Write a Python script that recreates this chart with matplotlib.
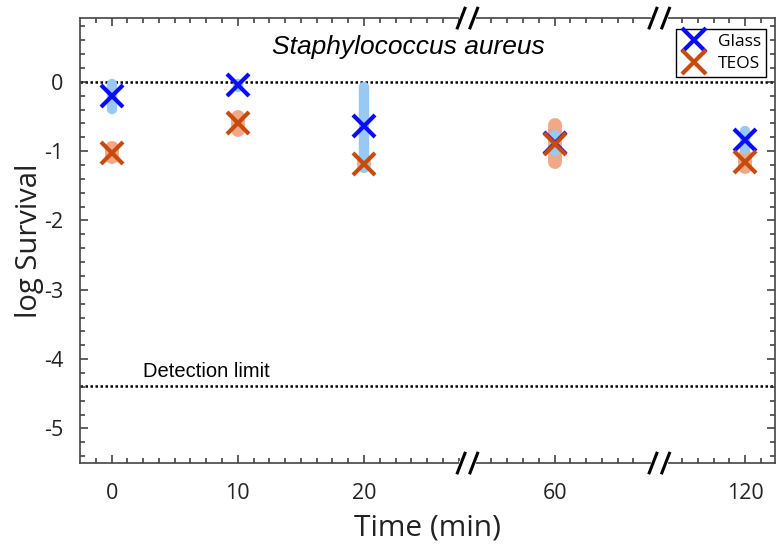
import numpy as np
import matplotlib
matplotlib.use("Agg")
import matplotlib.pyplot as plt

# data
times = [0, 10, 20, 60, 120]
glass_mean = [-0.21, -0.05, -0.64, -0.88, -0.84]
glass_err_lo = [0.18, 0.02, 0.60, 0.12, 0.13]
glass_err_hi = [0.18, 0.02, 0.57, 0.12, 0.13]
teos_mean = [-1.02, -0.60, -1.18, -0.89, -1.15]
teos_err = [0.07, 0.10, 0.02, 0.27, 0.08]
detection_limit = -4.39

# broken x axis: place each time on a compressed position scale
time_pos = {0: 0, 10: 10, 20: 20, 60: 35.1, 120: 50.2}
breaks = [28.2, 43.4]
x = [time_pos[t] for t in times]

blue = "#0a0aff"
light_blue = "#98c8f4"
rust = "#c64b0c"
salmon = "#f2a887"

fig = plt.figure(figsize=(7.77, 5.48), dpi=100)
ax = fig.add_axes([0.103, 0.155, 0.895, 0.812])

# error bars (thick, rounded)
eb_t = ax.errorbar(x, teos_mean, yerr=teos_err, fmt="none", ecolor=salmon,
                   elinewidth=10, capsize=0, zorder=2)
eb_g = ax.errorbar(x, glass_mean, yerr=[glass_err_lo, glass_err_hi], fmt="none",
                   ecolor=light_blue, elinewidth=7.5, capsize=0, zorder=3)
for eb in (eb_t, eb_g):
    for lc in eb[2]:
        lc.set_capstyle("round")

ax.plot(x, glass_mean, "x", color=blue, ms=16, mew=3, zorder=4, label="Glass")
ax.plot(x, teos_mean, "x", color=rust, ms=16, mew=3, zorder=5, label="TEOS")

# reference lines
ax.axhline(0, color="black", ls=(0, (1, 1.0)), lw=1.8, zorder=1)
ax.axhline(detection_limit, color="black", ls=(0, (1, 1.0)), lw=1.8, zorder=1)
ax.text(2.5, detection_limit + 0.08, "Detection limit", fontsize=14.5,
        family="Liberation Sans", ha="left", va="bottom")

ax.text(0.472, 0.935, "Staphylococcus aureus", transform=ax.transAxes,
        fontsize=19, style="italic", family="Liberation Sans",
        ha="center", va="center")

ax.set_xlim(-2.5, 52.6)
ax.set_ylim(-5.5, 0.92)

ax.set_xticks(x)
ax.set_xticklabels([str(t) for t in times])
minor_x = list(np.arange(-1.25, 28.0, 1.25))
minor_x += list(time_pos[60] + 1.25 * np.arange(-4, 6))
minor_x += list(time_pos[120] + 1.25 * np.arange(-4, 2))
minor_x = [m for m in minor_x if all(abs(m - p) > 0.1 for p in x)]
ax.set_xticks(minor_x, minor=True)

ax.set_yticks(range(-5, 1))
ax.set_yticklabels([str(v) for v in range(-5, 1)])
ax.set_yticks(np.arange(-5.4, 0.9, 0.2), minor=True)

for lbl in ax.get_xticklabels() + ax.get_yticklabels():
    lbl.set_family("Open Sans")
    lbl.set_fontsize(15.5)
    lbl.set_color("#222222")

ax.tick_params(which="both", direction="in", top=True, right=True,
               color="#333333", width=1.1)
ax.tick_params(which="major", length=6)
ax.tick_params(axis="x", which="major", pad=14)
ax.tick_params(axis="y", which="major", pad=12)
ax.tick_params(which="minor", length=3.5)
for sp in ax.spines.values():
    sp.set_color("#444444")
    sp.set_linewidth(1.2)

ax.set_xlabel("Time (min)", family="Open Sans", fontsize=21.5, color="#222222",
              labelpad=7)
ax.set_ylabel("log Survival", family="Open Sans", fontsize=21, color="#222222",
              labelpad=0)

# break marks on top and bottom spines
trans = ax.get_xaxis_transform()
for b in breaks:
    for yy in (0, 1):
        ax.plot([b - 0.5, b + 0.5], [yy, yy], color="white", lw=3,
                transform=trans, clip_on=False, zorder=10)
        for off in (-0.5, 0.5):
            ax.plot([b + off - 0.3, b + off + 0.3], [yy - 0.022, yy + 0.022],
                    color="black", lw=2.2, transform=trans, clip_on=False,
                    zorder=11)

leg = ax.legend(loc="upper right", bbox_to_anchor=(0.9915, 0.983),
                prop={"family": "Open Sans", "size": 12.5},
                fancybox=False, edgecolor="black", framealpha=1,
                handlelength=1.5, handletextpad=0.6, borderpad=0.3,
                borderaxespad=0.2, labelspacing=0.3, markerscale=1.1)
leg.get_frame().set_linewidth(1.0)

fig.savefig("out.png", dpi=100)
